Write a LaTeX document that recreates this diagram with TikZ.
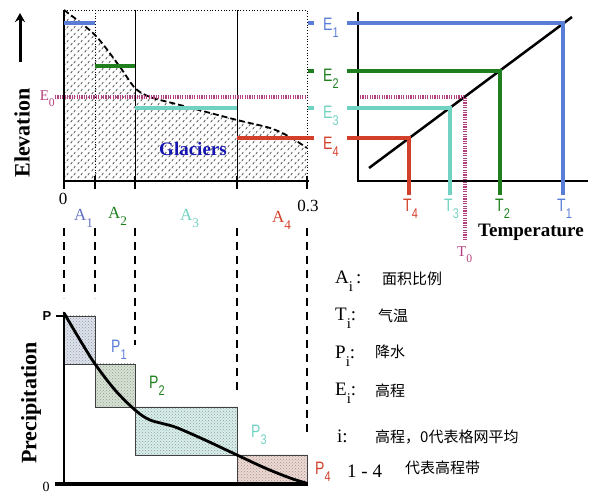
\documentclass[tikz,border=0pt]{standalone}
\usepackage{fontspec}
\setmainfont{Liberation Serif}
\setsansfont{Liberation Sans}
\newfontfamily\cjkfont{Noto Sans CJK SC}
\newfontfamily\narrowsans{Liberation Sans}[FakeStretch=0.78]
\usetikzlibrary{
  arrows.meta,
  patterns
}
\definecolor{bandBlue}{HTML}{5A7ED8}
\definecolor{bandGreen}{HTML}{1F7F1F}
\definecolor{bandCyan}{HTML}{72D2C2}
\definecolor{bandRed}{HTML}{D2402C}
\definecolor{elevMagenta}{HTML}{B2407E}
\definecolor{areaBlue}{HTML}{6472C0}
\definecolor{glacierText}{HTML}{1515B0}
\definecolor{boxBlue}{HTML}{DCE3EE}
\definecolor{boxGreen}{HTML}{D6E3D2}
\definecolor{boxCyan}{HTML}{D6F0EC}
\definecolor{boxRed}{HTML}{F0D8D2}
\pgfdeclarepatternformonly{glacierhatch}{\pgfqpoint{0pt}{0pt}}{\pgfqpoint{7pt}{7pt}}{\pgfqpoint{7pt}{7pt}}{
  \pgfsetlinewidth{0.8pt}
  \pgfpathmoveto{\pgfqpoint{0.8pt}{0.8pt}}\pgfpathlineto{\pgfqpoint{2.6pt}{3.4pt}}
  \pgfpathmoveto{\pgfqpoint{4.3pt}{4.3pt}}\pgfpathlineto{\pgfqpoint{6.1pt}{6.9pt}}
  \pgfusepath{stroke}
}
\newcommand{\sublbl}[2]{#1\raisebox{-0.38em}{\scalebox{0.78}{#2}}}
\tikzset{
  axisline/.style={line width=2pt, draw=black},
  eband/.style={line width=4pt, draw=#1},
  edot/.style={line width=4pt, draw=elevMagenta, dash pattern=on 1.2pt off 1.2pt},
  vdash/.style={line width=2pt, draw=black, dash pattern=on 8pt off 6pt},
  bandbox/.style={draw=black!75, line width=0.8pt, preaction={fill=#1},
    pattern=crosshatch dots, pattern color=black!40},
  elbl/.style={font=\narrowsans\fontsize{18}{18}\selectfont, anchor=base west, inner sep=0pt},
  albl/.style={font=\fontsize{17}{17}\selectfont, anchor=base west, inner sep=0pt},
  axtitle/.style={font=\bfseries\fontsize{22}{22}\selectfont, inner sep=0pt},
  legsym/.style={font=\fontsize{19}{19}\selectfont, anchor=base west, inner sep=0pt},
  legtxt/.style={font=\cjkfont\fontsize{15}{15}\selectfont, anchor=base west, inner sep=0pt}
}

\begin{document}
\begin{tikzpicture}[x=1pt, y=-1pt]
\useasboundingbox (0,0) rectangle (590,494);

% --- Elevation panel ---
\fill[pattern=glacierhatch, pattern color=black!70]
  plot[smooth] coordinates {(64,10) (95,35) (120,67) (135,88) (150,97) (180,105)
    (237,120) (270,128) (290,137) (307,148)} -- (307,180) -- (64,180) -- cycle;
\draw[dotted, line width=0.8pt] (64,10) -- (307,10) -- (307,180);
\draw[dotted, line width=0.8pt] (95,10) -- (95,180);
\draw[line width=0.8pt] (135,10) -- (135,180);
\draw[line width=0.8pt] (237,10) -- (237,180);
\draw[line width=1.8pt, dash pattern=on 6pt off 3pt]
  plot[smooth] coordinates {(64,10) (95,35) (120,67) (135,88) (150,97) (180,105)
    (237,120) (270,128) (290,137) (307,148)};
\draw[line width=1.2pt] (64,10) -- (64,181);
\draw[line width=2.5pt] (63,181) -- (309,181);
\foreach \x in {64,95,135,237,307}
  \draw[line width=1.5pt] (\x,176) -- (\x,189);

\node[font=\bfseries\color{glacierText}\fontsize{19}{19}\selectfont] (glaciers) at (193,149) {Glaciers};

% elevation bands
\draw[eband=bandBlue] (64,23) -- (95,23);
\draw[eband=bandGreen] (95,66) -- (135,66);
\draw[eband=bandCyan] (135,108) -- (237,108);
\draw[eband=bandRed] (237,138) -- (314,138);
\draw[eband=bandBlue] (308,23) -- (314,23);
\draw[eband=bandGreen] (308,71) -- (314,71);
\draw[eband=bandCyan] (308,108) -- (314,108);
\draw[edot] (55,97) -- (307,97);
\node[font=\fontsize{15}{15}\selectfont, text=elevMagenta, anchor=base east, inner sep=0pt] (e0) at (55,101) {\sublbl{E}{0}};

\node[elbl, text=bandBlue] (e1) at (323,31) {\sublbl{E}{1}};
\node[elbl, text=bandGreen] (e2) at (323,82) {\sublbl{E}{2}};
\node[elbl, text=bandCyan] (e3) at (323,119) {\sublbl{E}{3}};
\node[elbl, text=bandRed] (e4) at (323,150) {\sublbl{E}{4}};

\coordinate (arrowbase) at (20,62);
\coordinate (arrowtip) at (20,13);
\draw[line width=3pt, -{Stealth[length=9pt, width=10pt]}] (arrowbase) -- (arrowtip);
\node[axtitle, rotate=90] (elev) at (22,133) {Elevation};

% area axis labels
\node[font=\fontsize{17}{17}\selectfont, inner sep=0pt] (zero) at (63,199) {0};
\node[font=\fontsize{17}{17}\selectfont, inner sep=0pt] (third) at (308,206) {0.3};
\node[albl, text=areaBlue] (a1) at (74,221) {\sublbl{A}{1}};
\node[albl, text=bandGreen] (a2) at (108,219) {\sublbl{A}{2}};
\node[albl, text=bandCyan] (a3) at (180,221) {\sublbl{A}{3}};
\node[albl, text=bandRed] (a4) at (272,223) {\sublbl{A}{4}};

% --- Temperature panel ---
\draw[axisline] (358,12) -- (358,181) -- (588,181);
\draw[line width=2.5pt] (369,168) -- (572,17);
\draw[eband=bandBlue] (347,23) -- (563,23) -- (563,195);
\draw[eband=bandGreen] (347,71) -- (500,71) -- (500,195);
\draw[eband=bandCyan] (347,108) -- (450,108) -- (450,195);
\draw[eband=bandRed] (347,138) -- (409,138) -- (409,195);
\draw[edot] (360,97) -- (465,97) -- (465,241);

\node[elbl, text=bandRed] (t4) at (403,212) {\sublbl{T}{4}};
\node[elbl, text=bandCyan] (t3) at (444,212) {\sublbl{T}{3}};
\node[elbl, text=bandGreen] (t2) at (495,212) {\sublbl{T}{2}};
\node[elbl, text=bandBlue] (t1) at (557,212) {\sublbl{T}{1}};
\node[font=\fontsize{15}{15}\selectfont, text=elevMagenta, anchor=base west, inner sep=0pt] (t0) at (457,257) {\sublbl{T}{0}};
\node[font=\bfseries\fontsize{19}{19}\selectfont, anchor=base west, inner sep=0pt] (temp) at (478,237) {Temperature};

% --- Dashed band guides ---
\draw[vdash] (64,228) -- (64,298);
\draw[vdash] (95,228) -- (95,298);
\draw[vdash] (135,228) -- (135,345);
\draw[vdash] (237,228) -- (237,390);
\draw[vdash] (307,228) -- (307,437);

% --- Precipitation panel ---
\draw[bandbox=boxBlue] (64,316) rectangle (95,364);
\draw[bandbox=boxGreen] (95,364) rectangle (135,407);
\draw[bandbox=boxCyan] (135,407) rectangle (237,455);
\draw[bandbox=boxRed] (237,455) rectangle (307,482);
\draw[line width=1.2pt] (64,316) -- (64,484);
\draw[line width=1.2pt] (56,316) -- (64,316);
\draw[line width=3.5pt] (55,484) -- (308,484);
\draw[line width=2.8pt, line cap=round]
  plot[smooth] coordinates {(64,313) (80,340) (95,364) (115,390) (135,410) (150,420)
    (175,427) (205,440) (237,455) (265,468) (290,478) (306,483)};

\node[font=\sffamily\bfseries\fontsize{13}{13}\selectfont, inner sep=0pt] (ptop) at (47,316) {P};
\node[font=\fontsize{14}{14}\selectfont, inner sep=0pt] (pzero) at (46,487) {0};
\node[axtitle, rotate=90] (precip) at (31,403) {Precipitation};

\node[elbl, text=bandBlue] (p1) at (111,353) {\sublbl{P}{1}};
\node[elbl, text=bandGreen] (p2) at (149,389) {\sublbl{P}{2}};
\node[elbl, text=bandCyan] (p3) at (251,438) {\sublbl{P}{3}};
\node[elbl, text=bandRed] (p4) at (315,475) {\sublbl{P}{4}};

% --- Legend ---
\node[legsym] (lega) at (335,284) {\sublbl{A}{i}\,:};
\node[legtxt] (legatxt) at (382,285) {面积比例};
\node[legsym] (legt) at (335,321) {\sublbl{T}{i}:};
\node[legtxt] (legttxt) at (378,322) {气温};
\node[legsym] (legp) at (335,359) {\sublbl{P}{i}:};
\node[legtxt] (legptxt) at (375,358) {降水};
\node[legsym] (lege) at (335,396) {\sublbl{E}{i}:};
\node[legtxt] (legetxt) at (375,397) {高程};
\node[legsym] (legi) at (337,443) {i:};
\node[legtxt] (legitxt) at (375,443) {高程，0代表格网平均};
\node[legsym] (legn) at (347,478) {1 - 4};
\node[legtxt] (legntxt) at (405,474) {代表高程带};

\end{tikzpicture}
\end{document}
